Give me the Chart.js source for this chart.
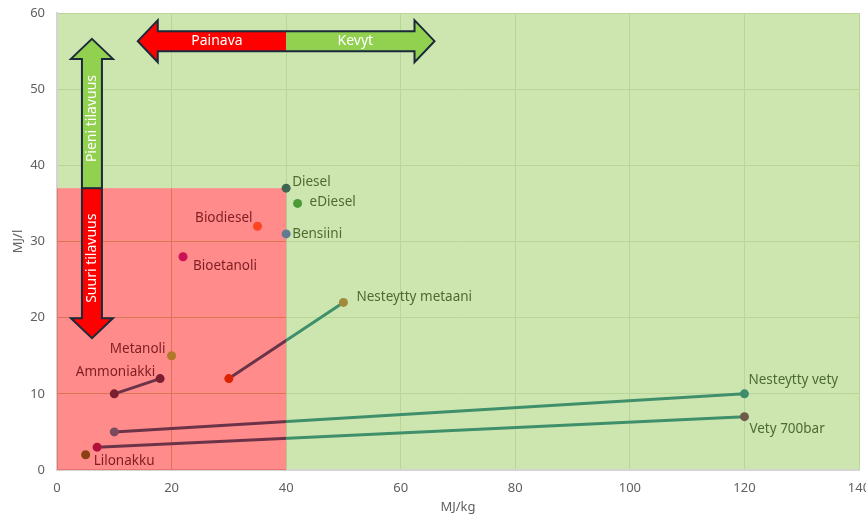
<!DOCTYPE html>
<html>
<head>
<meta charset="utf-8">
<script src="https://cdn.jsdelivr.net/npm/chart.js@4.4.0/dist/chart.umd.min.js"></script>
<style>
html, body { margin: 0; padding: 0; background: #fff; }
#kehys { width: 866px; height: 515px; position: relative; }
</style>
</head>
<body>
<div id="kehys"><canvas id="grafica"></canvas></div>
<script>
// Polttoaineiden energiatiheys: massaa (MJ/kg) ja tilavuutta (MJ/l) kohden
const polttoaineet = ['Diesel', 'eDiesel', 'Bensiini', 'Biodiesel', 'Bioetanoli', 'Metanoli',
  'Ammoniakki', 'Nesteytty metaani', 'Nesteytty vety', 'Vety 700bar', 'Lilonakku'];
const mjKg = [40, 42, 40, 35, 22, 20, 18, 50, 120, 120, 5];
const mjL = [37, 35, 31, 32, 28, 15, 12, 22, 10, 7, 2];
// Alkupiste niille joilla on vaihteluväli (null = pelkkä piste)
const alkuKg = [null, null, null, null, null, null, 10, 30, 10, 7, null];
const alkuL = [null, null, null, null, null, null, 10, 12, 5, 3, null];

const xTicks = [0, 20, 40, 60, 80, 100, 120, 140];
const yTicks = [0, 10, 20, 30, 40, 50, 60];

// Rajat: painava / kevyt ja suuri / pieni tilavuus
const rajaKg = 40;
const rajaL = 37;
const nuoliVaakaTekstit = ['Painava', 'Kevyt'];
const nuoliPystyTekstit = ['Suuri tilavuus', 'Pieni tilavuus'];

// Tyylit
const pisteVarit = ['#3E6652', '#4A9A3A', '#5F7A92', '#FF4422', '#CC1155', '#B07828',
  '#7A1E30', '#A38A3A', '#3E8C6A', '#6E5A48', '#8A4010'];
const alkuVarit = [null, null, null, null, null, null, '#7A1E30', '#DD2200', '#7A4A5E', '#B0103A', null];
const punainenTeksti = '#7F1D22';
const vihreaTeksti = '#4E6A30';
// [dx, dy, tasaus] pisteestä pikseleinä
const nimiPaikat = [[6, -6, 'left'], [12, -1, 'left'], [6, 0, 'left'], [-5, -8, 'right'],
  [10, 9, 'left'], [-6, -7, 'right'], [-5, -6, 'right'], [13, -5, 'left'], [4, -14, 'left'],
  [5, 12, 'left'], [8, 6, 'left']];

const fontti = '"Noto Sans", "DejaVu Sans", sans-serif';

// Viivan väri vaihtuu raja-arvon kohdalla
function viivaVari(ctx) {
  const chart = ctx.chart;
  const alue = chart.chartArea;
  if (!alue) return '#3F8F6B';
  const xr = chart.scales.x.getPixelForValue(rajaKg);
  const t = (xr - alue.left) / (alue.right - alue.left);
  const g = chart.ctx.createLinearGradient(alue.left, 0, alue.right, 0);
  g.addColorStop(0, '#6B3348');
  g.addColorStop(t, '#6B3348');
  g.addColorStop(t, '#3F8F6B');
  g.addColorStop(1, '#3F8F6B');
  return g;
}

const datasets = polttoaineet.map((nimi, i) => {
  const data = [];
  const varit = [];
  if (alkuKg[i] !== null) {
    data.push({ x: alkuKg[i], y: alkuL[i] });
    varit.push(alkuVarit[i]);
  }
  data.push({ x: mjKg[i], y: mjL[i] });
  varit.push(pisteVarit[i]);
  return {
    label: nimi,
    data: data,
    showLine: data.length > 1,
    borderColor: viivaVari,
    borderWidth: 3,
    pointBackgroundColor: varit,
    pointBorderWidth: 0,
    pointRadius: 4.5,
    pointHoverRadius: 4.5
  };
});

function nuoli(ctx, pisteet, varit, jako, vaaka) {
  ctx.beginPath();
  pisteet.forEach((p, k) => k ? ctx.lineTo(p[0], p[1]) : ctx.moveTo(p[0], p[1]));
  ctx.closePath();
  ctx.save();
  ctx.clip();
  ctx.fillStyle = varit[0];
  if (vaaka) ctx.fillRect(0, 0, jako, 515); else ctx.fillRect(0, jako, 866, 515);
  ctx.fillStyle = varit[1];
  if (vaaka) ctx.fillRect(jako, 0, 866, 515); else ctx.fillRect(0, 0, 866, jako);
  ctx.restore();
  ctx.strokeStyle = '#1B2A3A';
  ctx.lineWidth = 2;
  ctx.lineJoin = 'miter';
  ctx.stroke();
}

const taustaPlugin = {
  id: 'tausta',
  beforeDraw(chart) {
    const { ctx, chartArea: a, scales } = chart;
    const xr = scales.x.getPixelForValue(rajaKg);
    const yr = scales.y.getPixelForValue(rajaL);
    ctx.save();
    ctx.fillStyle = '#CDE6B0';
    ctx.fillRect(a.left, a.top, a.right - a.left, a.bottom - a.top);
    ctx.fillStyle = '#FFFFFF';
    ctx.fillRect(a.left, yr, xr - a.left, a.bottom - yr);
    ctx.restore();
  },
  beforeDatasetsDraw(chart) {
    const { ctx, chartArea: a, scales } = chart;
    const xr = scales.x.getPixelForValue(rajaKg);
    const yr = scales.y.getPixelForValue(rajaL);
    ctx.save();
    ctx.fillStyle = 'rgba(255,0,0,0.455)';
    ctx.fillRect(a.left, yr, xr - a.left, a.bottom - yr);
    ctx.restore();
  },
  afterDatasetsDraw(chart) {
    const { ctx, scales } = chart;
    const sx = scales.x, sy = scales.y;
    ctx.save();
    // nimet
    ctx.font = '13.5px ' + fontti;
    ctx.textBaseline = 'middle';
    polttoaineet.forEach((nimi, i) => {
      const px = sx.getPixelForValue(mjKg[i]);
      const py = sy.getPixelForValue(mjL[i]);
      const p = nimiPaikat[i];
      const punaisella = mjKg[i] < rajaKg && mjL[i] < rajaL;
      ctx.fillStyle = punaisella ? punainenTeksti : vihreaTeksti;
      ctx.textAlign = p[2];
      ctx.fillText(nimi, px + p[0], py + p[1]);
    });

    // vaakanuoli
    const x1 = sx.getPixelForValue(14.1), x2 = sx.getPixelForValue(65.9);
    const xs = sx.getPixelForValue(rajaKg);
    const cy = sy.getPixelForValue(56.3);
    const rv = 10, pv = 21, kv = 20;
    nuoli(ctx, [[x1, cy], [x1 + kv, cy - pv], [x1 + kv, cy - rv], [x2 - kv, cy - rv], [x2 - kv, cy - pv],
      [x2, cy], [x2 - kv, cy + pv], [x2 - kv, cy + rv], [x1 + kv, cy + rv], [x1 + kv, cy + pv]],
      ['#FF0000', '#92D050'], xs, true);
    ctx.fillStyle = '#FFFFFF';
    ctx.font = '14px ' + fontti;
    ctx.textAlign = 'center';
    ctx.textBaseline = 'middle';
    ctx.fillText(nuoliVaakaTekstit[0], (x1 + kv / 2 + xs) / 2, cy);
    ctx.fillText(nuoliVaakaTekstit[1], (xs + x2 - kv / 2) / 2, cy);

    // pystynuoli
    const cx = sx.getPixelForValue(6.1);
    const y1 = sy.getPixelForValue(56.6), y2 = sy.getPixelForValue(17.3);
    const ys = sy.getPixelForValue(rajaL);
    nuoli(ctx, [[cx, y1], [cx + pv, y1 + kv], [cx + rv, y1 + kv], [cx + rv, y2 - kv], [cx + pv, y2 - kv],
      [cx, y2], [cx - pv, y2 - kv], [cx - rv, y2 - kv], [cx - rv, y1 + kv], [cx - pv, y1 + kv]],
      ['#FF0000', '#92D050'], ys, false);
    ctx.beginPath();
    ctx.moveTo(cx - rv, ys);
    ctx.lineTo(cx + rv, ys);
    ctx.stroke();
    ctx.fillStyle = '#FFFFFF';
    ctx.save();
    ctx.translate(cx, (ys + y2 - kv / 2) / 2);
    ctx.rotate(-Math.PI / 2);
    ctx.fillText(nuoliPystyTekstit[0], 0, 0);
    ctx.restore();
    ctx.save();
    ctx.translate(cx, (y1 + kv / 2 + ys) / 2);
    ctx.rotate(-Math.PI / 2);
    ctx.fillText(nuoliPystyTekstit[1], 0, 0);
    ctx.restore();
    ctx.restore();
  }
};

const grafica = new Chart(document.getElementById('grafica'), {
  type: 'scatter',
  data: { datasets: datasets },
  plugins: [taustaPlugin],
  options: {
    responsive: true,
    maintainAspectRatio: false,
    animation: false,
    layout: { padding: { top: 13, right: 7, left: 0, bottom: 0 } },
    plugins: {
      legend: { display: false },
      tooltip: { enabled: false }
    },
    scales: {
      x: {
        type: 'linear',
        min: xTicks[0],
        max: xTicks[xTicks.length - 1],
        afterBuildTicks: s => { s.ticks = xTicks.map(v => ({ value: v })); },
        afterFit: s => { s.height = 45; s.paddingLeft = 0; s.paddingRight = 0; },
        grid: { color: '#B8D69A', lineWidth: 1, drawTicks: false },
        border: { color: '#D4D4D4', width: 2 },
        ticks: { color: '#606060', font: { size: 13, family: fontti }, padding: 10, maxRotation: 0 },
        title: { display: true, text: 'MJ/kg', color: '#606060', font: { size: 13, family: fontti }, padding: 0 }
      },
      y: {
        type: 'linear',
        min: yTicks[0],
        max: yTicks[yTicks.length - 1],
        afterBuildTicks: s => { s.ticks = yTicks.map(v => ({ value: v })); },
        afterFit: s => { s.width = 57; s.paddingTop = 0; s.paddingBottom = 0; },
        grid: { color: '#B8D69A', lineWidth: 1, drawTicks: false },
        border: { color: '#D4D4D4', width: 2 },
        ticks: { color: '#606060', font: { size: 13, family: fontti }, padding: 12 },
        title: { display: true, text: 'MJ/l', color: '#606060', font: { size: 13, family: fontti }, padding: { top: 10, bottom: 0 } }
      }
    }
  }
});
</script>
</body>
</html>
